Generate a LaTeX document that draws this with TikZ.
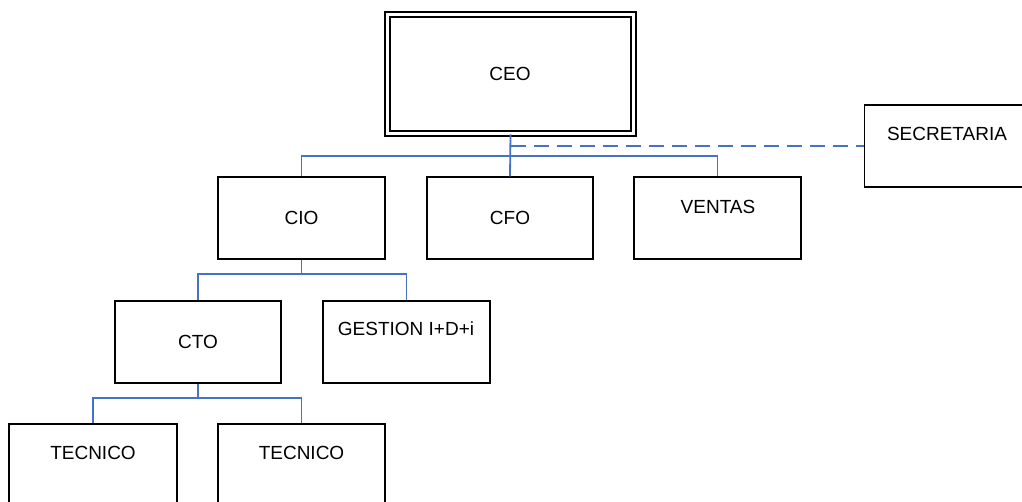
\documentclass[tikz,border=0pt]{standalone}
\usepackage{fontspec}
\setmainfont{Liberation Sans}
\usetikzlibrary{calc}
\definecolor{linkblue}{HTML}{4472C4}
\tikzset{
  box/.style={draw=black, line width=1.4pt, inner sep=0pt, fill=white},
  txt/.style={inner sep=0pt, font=\fontsize{19}{23}\selectfont},
  link/.style={draw=linkblue, line width=1.8pt},
  dashlink/.style={link, dash pattern=on 15pt off 8pt},
}
\begin{document}
\begin{tikzpicture}[x=1pt,y=-1pt]
\useasboundingbox (0,0) rectangle (1022,501);
\clip (0,0) rectangle (1022,501);
% boxes (centre, size)
\node[box, double, double distance=3pt, line width=1.6pt,
      minimum width=246pt, minimum height=119pt] (ceo) at (510.5,74) {};
\node[box, minimum width=167pt, minimum height=82pt] (secr) at (948,146) {};
\node[box, minimum width=167pt, minimum height=82pt] (cio) at (301.5,218) {};
\node[box, minimum width=166pt, minimum height=82pt] (cfo) at (510,218) {};
\node[box, minimum width=167pt, minimum height=82pt] (ventas) at (717.5,218) {};
\node[box, minimum width=166pt, minimum height=82pt] (cto) at (198,342) {};
\node[box, minimum width=167pt, minimum height=82pt] (gest) at (406.5,342) {};
\node[box, minimum width=168pt, minimum height=86pt] (tec1) at (93,467) {};
\node[box, minimum width=167pt, minimum height=86pt] (tec2) at (301.5,467) {};
% labels
\node[txt] (tceo) at (510,74) {CEO};
\node[txt] (tsecr) at (947,134) {SECRETARIA};
\node[txt] (tcio) at (301.5,218) {CIO};
\node[txt] (tcfo) at (510,218) {CFO};
\node[txt] (tventas) at (718,207) {VENTAS};
\node[txt] (tcto) at (198,342) {CTO};
\node[txt] (tgest) at (406,329) {GESTION I+D+i};
\node[txt] (ttec1) at (93,453) {TECNICO};
\node[txt] (ttec2) at (301.5,453) {TECNICO};
% connectors
\coordinate (ceobus) at (510,156);
\coordinate (ciobus) at (301.5,274);
\coordinate (ctobus) at (198,398);
\draw[link] (ceo.south) -- (cfo.north);
\draw[link] (cio.north) |- (ceobus) -| (ventas.north);
\draw[dashlink] (ceo.south |- secr.west) -- (secr.west);
\draw[link] (cio.south) -- (ciobus);
\draw[link] (cto.north) |- (ciobus) -| (gest.north);
\draw[link] (cto.south) -- (ctobus);
\draw[link] (tec1.north) |- (ctobus) -| (tec2.north);
\end{tikzpicture}
\end{document}
